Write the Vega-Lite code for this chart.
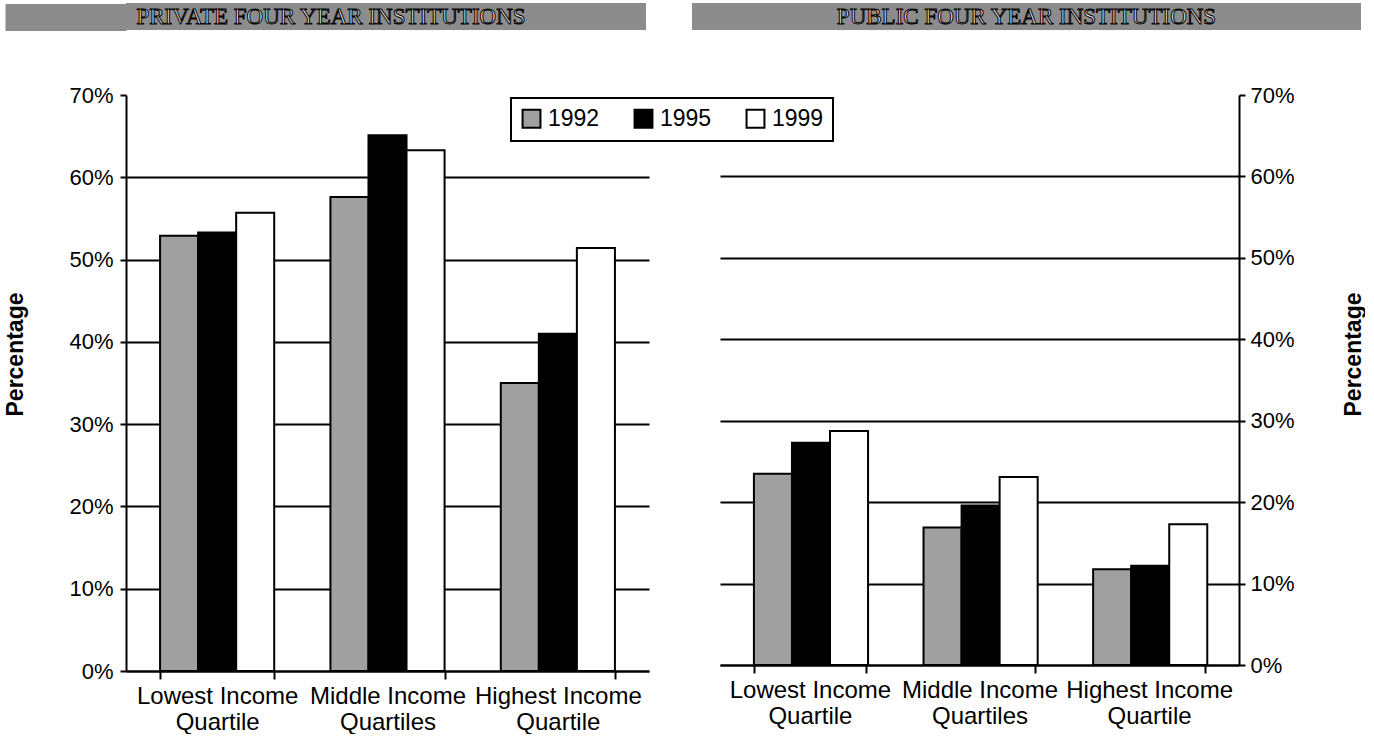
{
  "$schema": "https://vega.github.io/schema/vega-lite/v6.json",
  "background": "white",
  "padding": {"left": -9, "top": 3, "right": 0, "bottom": 0},
  "spacing": 53,
  "vconcat": [
    {
      "spacing": 46,
      "hconcat": [
        {
          "width": 520, "height": 27,
          "view": {"fill": "#8c8c8c", "stroke": null},
          "data": {"values": [{"label": "PRIVATE FOUR YEAR INSTITUTIONS"}]},
          "mark": {"type": "text", "font": "Liberation Serif", "fontSize": 23, "fill": "#e8e8e8", "stroke": "#000000", "strokeWidth": 1, "baseline": "middle", "align": "center", "dx": -55},
          "encoding": {
            "text": {"field": "label", "type": "nominal"},
            "y": {"field": "label", "type": "nominal", "scale": {"paddingInner": 0, "paddingOuter": 0},
              "axis": {"title": null, "labels": false, "domain": false, "grid": false, "tickSize": 121, "tickWidth": 27, "tickColor": "#8c8c8c"}}
          }
        },
        {
          "width": 669, "height": 27,
          "view": {"fill": "#8c8c8c", "stroke": null},
          "data": {"values": [{"label": "PUBLIC FOUR YEAR INSTITUTIONS"}]},
          "mark": {"type": "text", "font": "Liberation Serif", "fontSize": 23, "fill": "#e8e8e8", "stroke": "#000000", "strokeWidth": 1, "baseline": "middle", "align": "center"},
          "encoding": {"text": {"field": "label", "type": "nominal"}}
        }
      ]
    },
    {
      "spacing": 71,
      "hconcat": [
        {
          "width": 523, "height": 576,
          "data": {"values": [
            {"group": "Lowest Income Quartile", "year": "1992", "value": 0.529},
            {"group": "Lowest Income Quartile", "year": "1995", "value": 0.533},
            {"group": "Lowest Income Quartile", "year": "1999", "value": 0.557},
            {"group": "Middle Income Quartiles", "year": "1992", "value": 0.576},
            {"group": "Middle Income Quartiles", "year": "1995", "value": 0.651},
            {"group": "Middle Income Quartiles", "year": "1999", "value": 0.633},
            {"group": "Highest Income Quartile", "year": "1992", "value": 0.350},
            {"group": "Highest Income Quartile", "year": "1995", "value": 0.410},
            {"group": "Highest Income Quartile", "year": "1999", "value": 0.514}
          ]},
          "mark": {"type": "bar", "stroke": "black", "strokeWidth": 2},
          "encoding": {
            "x": {
              "field": "group", "type": "nominal",
              "sort": ["Lowest Income Quartile", "Middle Income Quartiles", "Highest Income Quartile"],
              "scale": {"paddingInner": 0.33},
              "axis": {"title": null, "tickBand": "extent", "labelAngle": 0, "labelFontSize": 24, "labelLineHeight": 26, "labelPadding": 5, "tickSize": 8,
                "labelExpr": "[substring(datum.label, 0, lastindexof(datum.label, ' ')), substring(datum.label, lastindexof(datum.label, ' ') + 1)]"}
            },
            "xOffset": {"field": "year", "type": "nominal", "sort": ["1992", "1995", "1999"]},
            "y": {
              "field": "value", "type": "quantitative",
              "scale": {"domain": [0, 0.7], "nice": false},
              "axis": {"orient": "left", "title": "Percentage", "values": [0, 0.1, 0.2, 0.3, 0.4, 0.5, 0.6, 0.7], "format": ".0%",
                "grid": true, "gridColor": {"condition": {"test": "datum.value > 0.65", "value": "transparent"}, "value": "black"}, "gridWidth": 2,
                "labelFontSize": 22, "labelPadding": 7, "tickSize": 6,
                "titleAngle": 270, "titleX": -99, "titleY": 259, "titleAlign": "center", "titleBaseline": "bottom"}
            },
            "color": {
              "field": "year", "type": "nominal",
              "scale": {"domain": ["1992", "1995", "1999"], "range": ["#a0a0a0", "#000000", "#ffffff"]},
              "legend": {
                "orient": "none", "legendX": 385, "legendY": 95, "direction": "horizontal", "title": null,
                "fillColor": "white", "strokeColor": "black", "padding": 9,
                "symbolType": "square", "symbolSize": 320, "symbolStrokeColor": "black", "symbolStrokeWidth": 2, "symbolOpacity": 1,
                "labelFontSize": 23, "labelFont": "Liberation Sans", "labelColor": "black", "labelOffset": 5, "columnPadding": 30,
                "encode": {"legend": {"update": {"strokeWidth": {"value": 2}}}}
              }
            }
          }
        },
        {
          "width": 519, "height": 570,
          "data": {"values": [
            {"group": "Lowest Income Quartile", "year": "1992", "value": 0.235},
            {"group": "Lowest Income Quartile", "year": "1995", "value": 0.273},
            {"group": "Lowest Income Quartile", "year": "1999", "value": 0.2875},
            {"group": "Middle Income Quartiles", "year": "1992", "value": 0.169},
            {"group": "Middle Income Quartiles", "year": "1995", "value": 0.196},
            {"group": "Middle Income Quartiles", "year": "1999", "value": 0.231},
            {"group": "Highest Income Quartile", "year": "1992", "value": 0.1175},
            {"group": "Highest Income Quartile", "year": "1995", "value": 0.122},
            {"group": "Highest Income Quartile", "year": "1999", "value": 0.173}
          ]},
          "mark": {"type": "bar", "stroke": "black", "strokeWidth": 2},
          "encoding": {
            "x": {
              "field": "group", "type": "nominal",
              "sort": ["Lowest Income Quartile", "Middle Income Quartiles", "Highest Income Quartile"],
              "scale": {"paddingInner": 0.34},
              "axis": {"title": null, "tickBand": "extent", "labelAngle": 0, "labelFontSize": 24, "labelLineHeight": 26, "labelPadding": 5, "tickSize": 8,
                "labelExpr": "[substring(datum.label, 0, lastindexof(datum.label, ' ')), substring(datum.label, lastindexof(datum.label, ' ') + 1)]"}
            },
            "xOffset": {"field": "year", "type": "nominal", "sort": ["1992", "1995", "1999"]},
            "y": {
              "field": "value", "type": "quantitative",
              "scale": {"domain": [0, 0.7], "nice": false},
              "axis": {"orient": "right", "title": "Percentage", "values": [0, 0.1, 0.2, 0.3, 0.4, 0.5, 0.6, 0.7], "format": ".0%",
                "grid": true, "gridColor": {"condition": {"test": "datum.value > 0.65", "value": "transparent"}, "value": "black"}, "gridWidth": 2,
                "labelFontSize": 22, "labelPadding": 5, "tickSize": 6,
                "titleAngle": 270, "titleX": 126, "titleY": 259, "titleAlign": "center", "titleBaseline": "bottom"}
            },
            "color": {"field": "year", "type": "nominal"}
          }
        }
      ]
    }
  ],
  "config": {
    "font": "Liberation Sans",
    "view": {"stroke": null},
    "axis": {
      "domainColor": "black", "domainWidth": 2, "tickColor": "black", "tickWidth": 2,
      "labelColor": "black", "labelFont": "Liberation Sans", "titleColor": "black", "titleFont": "Liberation Sans",
      "titleFontSize": 23, "titleFontWeight": "bold"
    }
  }
}
